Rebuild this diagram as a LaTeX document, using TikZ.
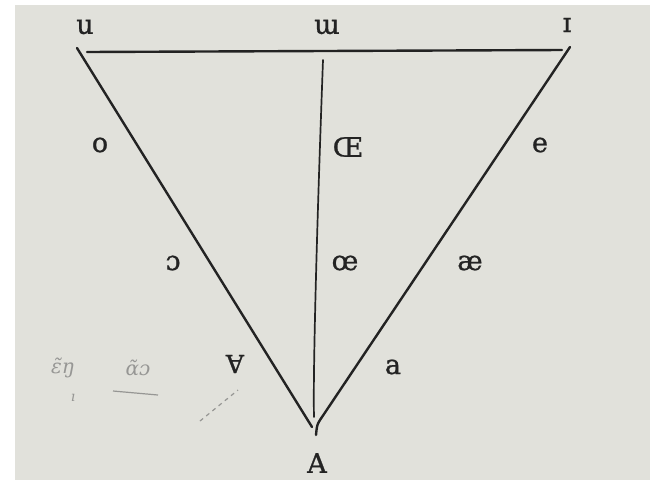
\documentclass[tikz,border=0pt]{standalone}
\usepackage{fontspec}
\setmainfont{DejaVu Serif}
\newfontfamily\inkfont{DejaVu Serif}[FakeBold=0.9]
\definecolor{paper}{RGB}{225,225,219}
\definecolor{ink}{RGB}{35,35,35}
\definecolor{pencil}{RGB}{150,150,148}
\tikzset{
  lbl/.style={inner sep=0pt, text=ink, font=\inkfont\fontsize{27}{30}\selectfont},
  side/.style={draw=ink, line width=2.4pt, line cap=round},
  mid/.style={draw=ink, line width=1.7pt, line cap=round},
  hand/.style={inner sep=0pt, text=pencil, font=\fontsize{20}{22}\selectfont\itshape}
}
\begin{document}
\begin{tikzpicture}[x=1pt,y=-1pt]
\useasboundingbox (0,0) rectangle (650,480);
\fill[white] (0,0) rectangle (650,480);
\fill[paper] (15,5) rectangle (650,480);
% corner coordinates
\coordinate (tl) at (77,48);
\coordinate (tlh) at (87,52);
\coordinate (tr) at (570,47);
\coordinate (trh) at (562,50);
\coordinate (bl) at (312,427);
\coordinate (br1) at (320,420);
\coordinate (br) at (316,435);
\coordinate (vt) at (323,60);
\coordinate (vb) at (314,417);
% lines
\draw[side] (tlh) -- (trh);
\draw[side] (tl) -- (bl);
\draw[side] (tr) -- (br1) .. controls (317,425) .. (br);
\draw[mid] (vt) .. controls (316,250) and (313,380) .. (vb);
% labels
\node[lbl] (u) at (85,27) {u};
\node[lbl] (w) at (327,27) {ɯ};
\node[lbl] (i) at (567,25) {ɪ};
\node[lbl] (o) at (100,145) {o};
\node[lbl] (OE) at (348,147) {Œ};
\node[lbl] (e) at (540,145) {e};
\node[lbl] (oo) at (173,263) {ɔ};
\node[lbl] (oe) at (345,263) {œ};
\node[lbl] (ae) at (470,263) {æ};
\node[lbl, rotate=180, font=\inkfont\fontsize{25}{28}\selectfont] (turnA) at (235,364) {A};
\node[lbl] (a) at (393,367) {a};
\node[lbl] (A) at (317,463) {A};
% faint pencil marks
\node[hand] (h1) at (63,368) {ɛ̃ŋ};
\node[hand] (h2) at (138,368) {ɑ̃ɔ};
\node[hand, font=\fontsize{14}{16}\selectfont\itshape] (h3) at (73,398) {ı};
\coordinate (ul1) at (113,391);
\coordinate (ul2) at (158,395);
\draw[pencil, line width=1.2pt] (ul1) -- (ul2);
\coordinate (d1) at (200,421);
\coordinate (d2) at (238,390);
\draw[pencil, line width=1.2pt, dash pattern=on 4pt off 4pt] (d1) -- (d2);
\end{tikzpicture}
\end{document}
